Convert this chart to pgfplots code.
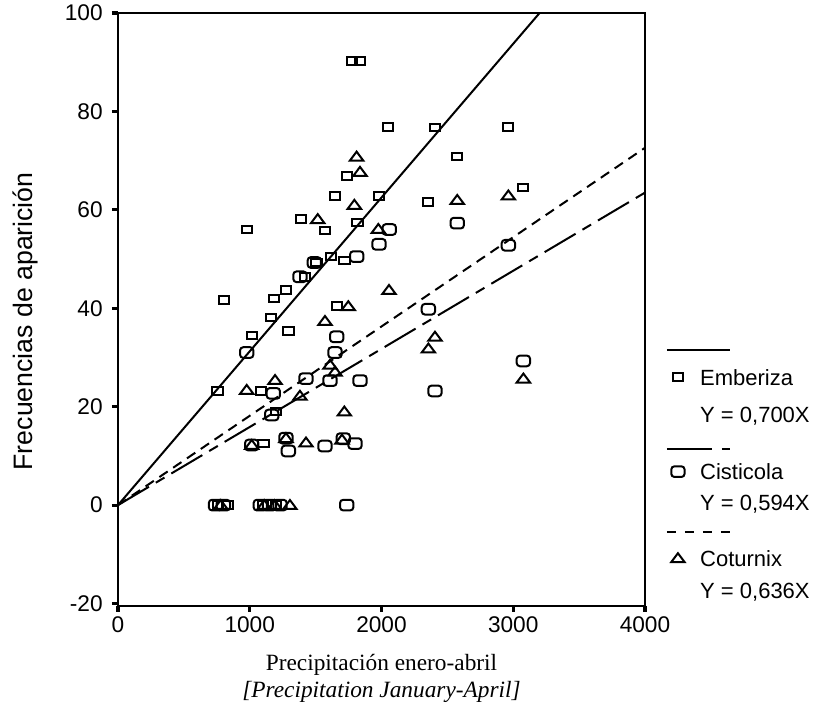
\documentclass[border=0pt]{standalone}
\usepackage{fontspec}
\setmainfont{Liberation Serif}
\setsansfont{Liberation Sans}
\usepackage{pgfplots}
\pgfplotsset{compat=1.18}

% marks as they look in the scan: flat square, rounded box, flat triangle
\pgfdeclareplotmark{emb}{%
  \pgfpathrectangle{\pgfpoint{-3.9pt}{-2.85pt}}{\pgfpoint{7.8pt}{5.7pt}}%
  \pgfusepathqstroke}
\pgfdeclareplotmark{cis}{%
  \pgfpathmoveto{\pgfpoint{-2.6pt}{-4pt}}%
  \pgfpathlineto{\pgfpoint{2.6pt}{-4pt}}%
  \pgfpathcurveto{\pgfpoint{3.93pt}{-4pt}}{\pgfpoint{5pt}{-2.93pt}}{\pgfpoint{5pt}{-1.6pt}}%
  \pgfpathlineto{\pgfpoint{5pt}{1.6pt}}%
  \pgfpathcurveto{\pgfpoint{5pt}{2.93pt}}{\pgfpoint{3.93pt}{4pt}}{\pgfpoint{2.6pt}{4pt}}%
  \pgfpathlineto{\pgfpoint{-2.6pt}{4pt}}%
  \pgfpathcurveto{\pgfpoint{-3.93pt}{4pt}}{\pgfpoint{-5pt}{2.93pt}}{\pgfpoint{-5pt}{1.6pt}}%
  \pgfpathlineto{\pgfpoint{-5pt}{-1.6pt}}%
  \pgfpathcurveto{\pgfpoint{-5pt}{-2.93pt}}{\pgfpoint{-3.93pt}{-4pt}}{\pgfpoint{-2.6pt}{-4pt}}%
  \pgfpathclose
  \pgfusepathqstroke}
\pgfdeclareplotmark{cot}{%
  \pgfpathmoveto{\pgfpoint{0pt}{3.8pt}}%
  \pgfpathlineto{\pgfpoint{-5pt}{-2.9pt}}%
  \pgfpathlineto{\pgfpoint{5pt}{-2.9pt}}%
  \pgfpathclose\pgfusepathqstroke}

\pgfplotstableread{
x y
1776 90.2
1837 90.2
2051 76.8
2406 76.7
2958 76.8
2571 70.8
1736 66.9
1647 62.8
1981 62.8
2351 61.6
3072 64.5
1387 58.1
1817 57.4
977 56.0
1571 55.8
1508 49.3
1617 50.5
1718 49.7
1419 46.4
1273 43.7
1184 42.0
805 41.7
1161 38.1
1660 40.4
1015 34.5
1293 35.4
754 23.2
1085 23.2
1199 19.0
1103 12.5
760 0
830 0
1100 0
1200 0
}\emberiza

\pgfplotstableread{
x y
2059 56.0
1981 53.0
1812 50.5
1490 49.3
1381 46.4
977 31.0
1660 34.2
1647 31.0
1427 25.7
1609 25.3
1837 25.3
1179 22.7
1167 18.3
2575 57.3
2963 52.8
2356 39.8
2406 23.2
3077 29.3
1015 12.2
1275 13.6
1293 11.0
1571 12.0
1710 13.5
1799 12.5
1736 0
740 0
800 0
1080 0
1150 0
1230 0
}\cisticola

\pgfplotstableread{
x y
1811 70.8
1837 67.7
1794 61.0
1516 58.1
1976 56.1
2575 62.0
2963 62.9
2057 43.7
1748 40.4
1571 37.4
1609 28.5
1647 27.1
1192 25.4
977 23.4
1381 22.2
1718 19.0
2406 34.2
2356 31.8
3077 25.7
1427 12.7
1275 13.6
1700 13.3
1015 12.2
1305 0
780 0
1110 0
1190 0
}\coturnix

\begin{document}
\begin{tikzpicture}
\begin{axis}[
  scale only axis, width=395.25pt, height=444.75pt,
  xmin=0, xmax=4000, ymin=-20.5, ymax=100,
  axis line style={line width=1.5pt},
  xtick={0,1000,...,4000}, ytick={-20,0,...,100},
  xtick pos=bottom, ytick pos=left,
  tick align=outside, major tick length=4.5pt,
  major tick style={line width=2.4pt, black},
  ticklabel style={font=\sffamily\fontsize{17}{20}\selectfont},
  yticklabel style={xshift=-3.5pt},
  /pgf/number format/assume math mode=true,
  /pgf/number format/1000 sep={},
  clip=false,
]
% fitted lines
\addplot[forget plot, line width=1.5pt] coordinates {(0,0) (3200,100)};
\addplot[forget plot, line width=1.5pt, dash pattern=on 27pt off 6pt on 7.5pt off 6pt] coordinates {(0,0) (4000,63.5)};
\addplot[forget plot, line width=1.5pt, dash pattern=on 7.5pt off 5pt] coordinates {(0,0) (4000,72.6)};

% observations
\addplot[forget plot, only marks, mark=emb, line width=1.5pt] table {\emberiza};
\addplot[forget plot, only marks, mark=cis, line width=1.5pt] table {\cisticola};
\addplot[forget plot, only marks, mark=cot, line width=1.5pt] table {\coturnix};

% legend (outside the box, in data units)
\addplot[forget plot, line width=1.3pt] coordinates {(4167,31.5) (4645,31.5)};
\addplot[forget plot, only marks, mark=emb, line width=1.5pt] coordinates {(4250,26)};
\addplot[forget plot, line width=1.3pt, dash pattern=on 33.75pt off 7.5pt on 6pt off 30pt] coordinates {(4167,11.4) (4645,11.4)};
\addplot[forget plot, only marks, mark=cis, line width=1.5pt] coordinates {(4250,6.8)};
\addplot[forget plot, line width=1.3pt, dash pattern=on 6.75pt off 6.75pt] coordinates {(4167,-5.5) (4645,-5.5)};
\addplot[forget plot, only marks, mark=cot, line width=1.5pt] coordinates {(4250,-10.8)};

\begin{scope}[every node/.style={anchor=west, inner sep=0pt, font=\sffamily\fontsize{16.5}{19}\selectfont}]
\node at (axis cs:4417,26) {Emberiza};
\node at (axis cs:4417,18.1) {Y = 0,700X};
\node at (axis cs:4417,6.8) {Cisticola};
\node at (axis cs:4417,0.2) {Y = 0,594X};
\node at (axis cs:4417,-10.8) {Coturnix};
\node at (axis cs:4417,-17.7) {Y = 0,636X};
\end{scope}

\node[font=\fontsize{17.5}{20}\selectfont] at ([yshift=-44.25pt]axis description cs:0.5,0) {Precipitación enero-abril};
\node[font=\fontsize{17.5}{20}\selectfont\itshape] at ([yshift=-64.5pt]axis description cs:0.5,0) {[Precipitation January-April]};
\node[rotate=90, font=\sffamily\fontsize{20}{24}\selectfont] at ([xshift=-69.75pt]axis description cs:0,0.48) {Frecuencias de aparición};
\end{axis}
\pgfresetboundingbox
\path (-88.5pt,-82.5pt) rectangle (530.25pt,454.5pt);
\end{tikzpicture}
\end{document}
